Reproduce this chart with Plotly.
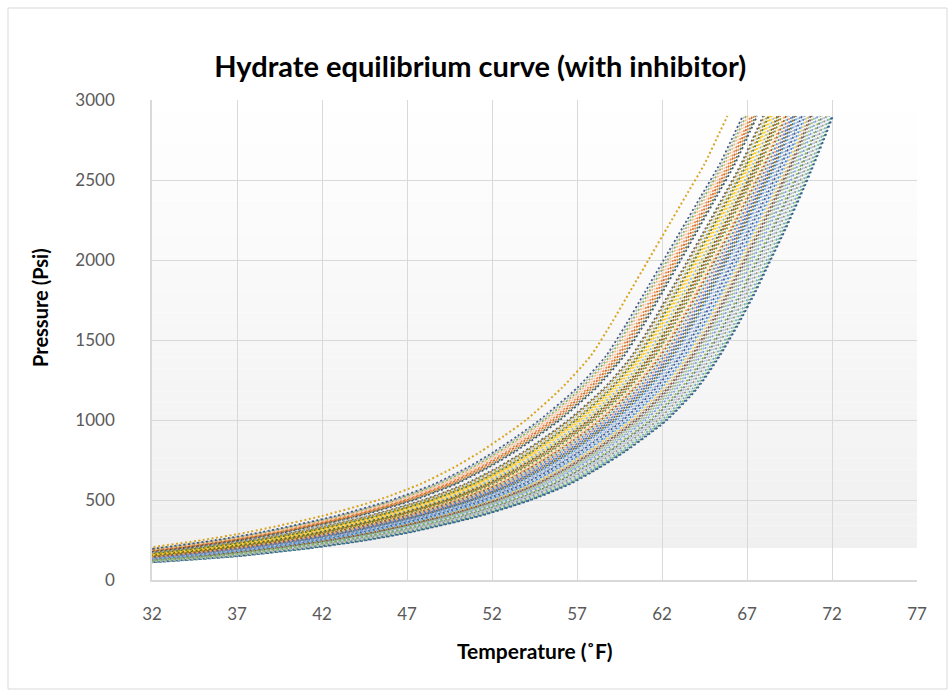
import plotly.graph_objects as go

# ---------------- data ----------------
pressure_psi = [100, 150, 200, 250, 300, 400, 500, 600, 700, 800, 900, 1000,
                1200, 1400, 1600, 1800, 2000, 2200, 2400, 2600, 2800, 2900]

# the single gold curve that sits left of the bundle
outlier_temp_f = [20.5, 27.3, 31.6, 35.0, 37.7, 42.0, 45.3, 47.8, 49.7, 51.3, 52.7, 54.0,
                  56.1, 57.8, 59.0, 60.1, 61.2, 62.3, 63.4, 64.5, 65.4, 65.85]

# upper-left edge of the bundle of curves
upper_edge_temp_f = [21.2, 28.0, 32.4, 35.8, 38.5, 42.8, 46.1, 48.6, 50.5, 52.1, 53.5, 54.8,
                     57.0, 58.7, 59.9, 61.0, 62.1, 63.2, 64.3, 65.4, 66.3, 66.75]

# lower-right edge of the bundle of curves
lower_edge_temp_f = [30.6, 37.2, 41.4, 44.7, 47.3, 51.3, 54.3, 56.6, 58.3, 59.8, 61.1, 62.3,
                     64.1, 65.4, 66.5, 67.5, 68.4, 69.3, 70.15, 70.95, 71.7, 72.05]

# position of each curve inside the bundle (0 = upper-left edge, 1 = lower-right edge)
curve_position = [0.512, 0.090, 0.784, 0.304, 0.960, 0.036, 0.656, 0.400, 0.880, 0.240,
                  0.592, 0.144, 0.832, 0.464, 0.018, 0.720, 0.352, 0.976, 0.560, 0.108,
                  0.928, 0.272, 0.688, 0.432, 0.816, 0.054, 0.624, 0.336, 0.896, 0.496,
                  0.160, 0.752, 0.225, 0.576, 1.000, 0.384, 0.672, 0.072, 0.848, 0.448,
                  0.256, 0.944, 0.544, 0.126, 0.736, 0.320, 0.608, 0.864, 0.000, 0.480,
                  0.768, 0.416, 0.990, 0.288, 0.640, 0.528, 0.912, 0.368, 0.704, 0.800]

x_ticks = [32, 37, 42, 47, 52, 57, 62, 67, 72, 77]
y_ticks = [0, 500, 1000, 1500, 2000, 2500, 3000]

# ---------------- styling ----------------
palette = ["#4472C4", "#ED7D31", "#A5A5A5", "#FFC000", "#5B9BD5", "#70AD47",
           "#264478", "#9E480E", "#636363", "#997300", "#255E91", "#43682B",
           "#698ED0", "#F1975A", "#B7B7B7", "#FFCD33", "#7CAFDD", "#8CC168",
           "#335AA1", "#C55A11", "#848484", "#BF9000", "#2E75B6", "#548235",
           "#8FAADC", "#F4B183", "#C9C9C9", "#FFD966", "#9DC3E6", "#A9D18E",
           "#203864", "#843C0C", "#525252", "#7F6000", "#1F4E79", "#385723",
           "#B4C7E7", "#F8CBAD", "#DBDBDB", "#FFE699", "#BDD7EE", "#C5E0B4"]

FONT = "Lato, 'Open Sans', sans-serif"
GRID = "#D9D9D9"

fig = go.Figure()

n = len(pressure_psi)
for i, f in enumerate(curve_position):
    xs = [upper_edge_temp_f[k] + f * (lower_edge_temp_f[k] - upper_edge_temp_f[k]) for k in range(n)]
    fig.add_trace(go.Scatter(
        x=xs, y=pressure_psi, mode="lines", opacity=0.85,
        line=dict(color=palette[i % len(palette)], width=1.8, dash="2px,2.5px",
                  shape="spline", smoothing=0.6),
        showlegend=False, hoverinfo="skip"))

fig.add_trace(go.Scatter(
    x=outlier_temp_f, y=pressure_psi, mode="lines",
    line=dict(color="#D9A520", width=2, dash="2px,2.5px", shape="spline", smoothing=0.6),
    showlegend=False, hoverinfo="skip"))

# gradient plot-area background (white at top, light grey down to 200 psi, white below)
shapes = []
nb = 40
lo, hi = 200, 3000
for b in range(nb):
    y0 = lo + (hi - lo) * b / nb
    y1 = lo + (hi - lo) * (b + 1) / nb
    t = (b + 0.5) / nb
    g = round(240 + 15 * t)
    shapes.append(dict(type="rect", xref="paper", yref="y", x0=0, x1=1, y0=y0, y1=y1,
                       fillcolor=f"rgb({g},{g},{g})", line=dict(width=0), layer="below"))
# outer chart border
shapes.append(dict(type="rect", xref="paper", yref="paper",
                   x0=(8 - 152) / 765, x1=(947 - 152) / 765,
                   y0=(580 - 689) / 480, y1=(580 - 8) / 480,
                   line=dict(color="#D9D9D9", width=1), fillcolor="rgba(0,0,0,0)", layer="below"))

fig.update_layout(
    width=951, height=694,
    margin=dict(l=152, r=34, t=100, b=114),
    paper_bgcolor="white", plot_bgcolor="white",
    font=dict(family=FONT, color="#595959", size=16),
    title=dict(text="<b>Hydrate equilibrium curve (with inhibitor)</b>",
               x=0.505, xref="container", xanchor="center",
               y=1 - 67 / 694, yref="container", yanchor="middle",
               font=dict(family=FONT, size=29, color="#000000")),
    shapes=shapes,
    annotations=[
        dict(text="<b>Pressure (Psi)</b>", xref="paper", yref="paper",
             x=(40 - 152) / 765, y=(580 - 308) / 480, textangle=-90,
             showarrow=False, xanchor="center", yanchor="middle",
             font=dict(family=FONT, size=20, color="#000000")),
        dict(text="<b>Temperature (˚F)</b>", xref="paper", yref="paper",
             x=0.5, y=(580 - 650) / 480,
             showarrow=False, xanchor="center", yanchor="middle",
             font=dict(family=FONT, size=21, color="#000000")),
    ],
)

fig.update_xaxes(range=[32, 77], tickvals=x_ticks, ticktext=[str(v) for v in x_ticks],
                 showgrid=True, gridcolor=GRID, gridwidth=1.3,
                 showline=True, linecolor=GRID, linewidth=1.6,
                 ticks="", ticklabelstandoff=18, zeroline=False,
                 tickfont=dict(size=17, color="#595959"))
fig.update_yaxes(range=[0, 3000], tickvals=y_ticks, ticktext=[str(v) for v in y_ticks],
                 showgrid=True, gridcolor=GRID, gridwidth=1.3,
                 showline=True, linecolor=GRID, linewidth=1.6,
                 ticks="", ticklabelstandoff=32, zeroline=False,
                 tickfont=dict(size=17, color="#595959"))

fig.write_html("out.html", config={"displayModeBar": False},
               post_script="document.body.style.margin='0';")
